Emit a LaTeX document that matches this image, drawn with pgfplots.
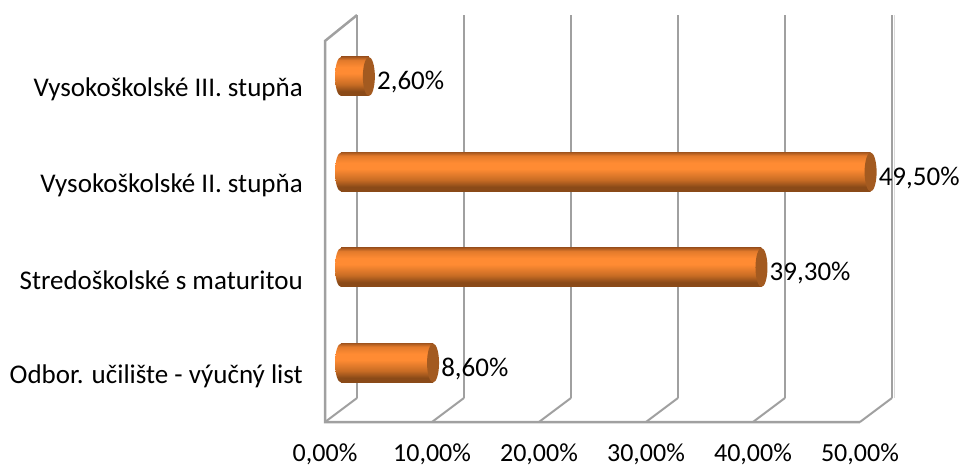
\documentclass[border=0pt]{standalone}
\usepackage{pgfplots}
\pgfplotsset{compat=1.18}
\usepackage{fontspec}
\setmainfont{Carlito}
\definecolor{gridg}{HTML}{A0A0A0}
\definecolor{capc}{HTML}{A35A20}
\definecolor{bdark}{HTML}{8A4A18}
\definecolor{bmid}{HTML}{C86C24}
\definecolor{bbright}{HTML}{FF8B33}
\definecolor{bup}{HTML}{E27A2B}
\definecolor{btop}{HTML}{A8581F}
\pgfdeclareverticalshading{barshade}{100bp}{
 color(0bp)=(bdark);
 color(25bp)=(bdark);
 color(31bp)=(bdark);
 color(40bp)=(bmid);
 color(54bp)=(bbright);
 color(62bp)=(bbright);
 color(71bp)=(bup);
 color(75bp)=(btop);
 color(100bp)=(btop)}
\pgfdeclareplotmark{lcap}{\path[draw=none, shade, shading=barshade] (0pt,0pt) ellipse [x radius=6pt, y radius=19.5pt];}
\pgfdeclareplotmark{rcap}{\pgfpathellipse{\pgfpointorigin}{\pgfqpoint{6pt}{0pt}}{\pgfqpoint{0pt}{19.5pt}}\pgfsetfillcolor{capc}\pgfusepath{fill}}
\pgfplotsset{cyl/.style={xbar, bar width=39pt, bar shift=0pt, draw=none, shade, shading=barshade,
 nodes near coords={\pgfmathprintnumber[fixed,fixed zerofill,precision=2,use comma,assume math mode=true]{\pgfplotspointmeta}\%},
 point meta=x,
 nodes near coords style={anchor=west, inner sep=0pt, xshift=8pt, yshift=-6pt, font=\fontsize{27}{27}\selectfont, black},
 forget plot}}
\begin{document}
\begin{tikzpicture}
\path[use as bounding box] (0,0) rectangle (961pt,467pt);
\begin{axis}[
 at={(325pt,45pt)}, anchor=south west,
 scale only axis, width=567pt, height=407pt,
 xmin=-1.5, xmax=51.5, ymin=-0.618, ymax=3.644,
 clip=false,
 axis line style={draw=none},
 tick style={draw=none},
 xtick={0,10,20,30,40,50},
 xticklabels={{0,00\%},{10,00\%},{20,00\%},{30,00\%},{40,00\%},{50,00\%}},
 ytick={0,1,2,3},
 yticklabels={{Odbor. učilište - výučný list},{Stredoškolské s maturitou},{Vysokoškolské II. stupňa},{Vysokoškolské III. stupňa}},
 xticklabel style={font=\fontsize{26}{26}\selectfont, inner sep=0pt, text depth=0pt, xshift=-16pt, yshift=-22pt, anchor=north},
 yticklabel style={font=\fontsize{27}{27}\selectfont, inner sep=0pt, anchor=east, xshift=-22pt, yshift=-13pt},
]
\pgfplotsinvokeforeach{1.5,11.5,21.5,31.5,41.5,51.5}{
 \addplot[gridg, line width=2.5pt, forget plot] coordinates {(#1,-0.366) (#1,3.644)};
}
\addplot[gray!30, line width=1.5pt, forget plot] coordinates {(51.75,-0.366) (51.75,3.644)};
\addplot[gridg, line width=2pt, forget plot] coordinates {(-1.5,-0.618) (1.5,-0.366)};
\addplot[gridg, line width=2pt, forget plot] coordinates {(8.5,-0.618) (11.5,-0.366)};
\addplot[gridg, line width=2pt, forget plot] coordinates {(18.5,-0.618) (21.5,-0.366)};
\addplot[gridg, line width=2pt, forget plot] coordinates {(28.5,-0.618) (31.5,-0.366)};
\addplot[gridg, line width=2pt, forget plot] coordinates {(38.5,-0.618) (41.5,-0.366)};
\addplot[gridg, line width=2pt, forget plot] coordinates {(48.5,-0.618) (51.5,-0.366)};
\addplot[gridg, line width=2.5pt, forget plot] coordinates {(1.5,3.644) (-1.5,3.372) (-1.5,-0.618) (48.5,-0.618)};
\addplot[cyl] coordinates {(8.6,0)};
\addplot[cyl] coordinates {(39.3,1)};
\addplot[cyl] coordinates {(49.5,2)};
\addplot[cyl] coordinates {(2.6,3)};
\addplot[only marks, mark=lcap, mark options={draw=none}, draw=none, forget plot] coordinates {(0,0) (0,1) (0,2) (0,3)};
\addplot[only marks, mark=rcap, forget plot] coordinates {(8.6,0) (39.3,1) (49.5,2) (2.6,3)};
\end{axis}
\end{tikzpicture}
\end{document}
